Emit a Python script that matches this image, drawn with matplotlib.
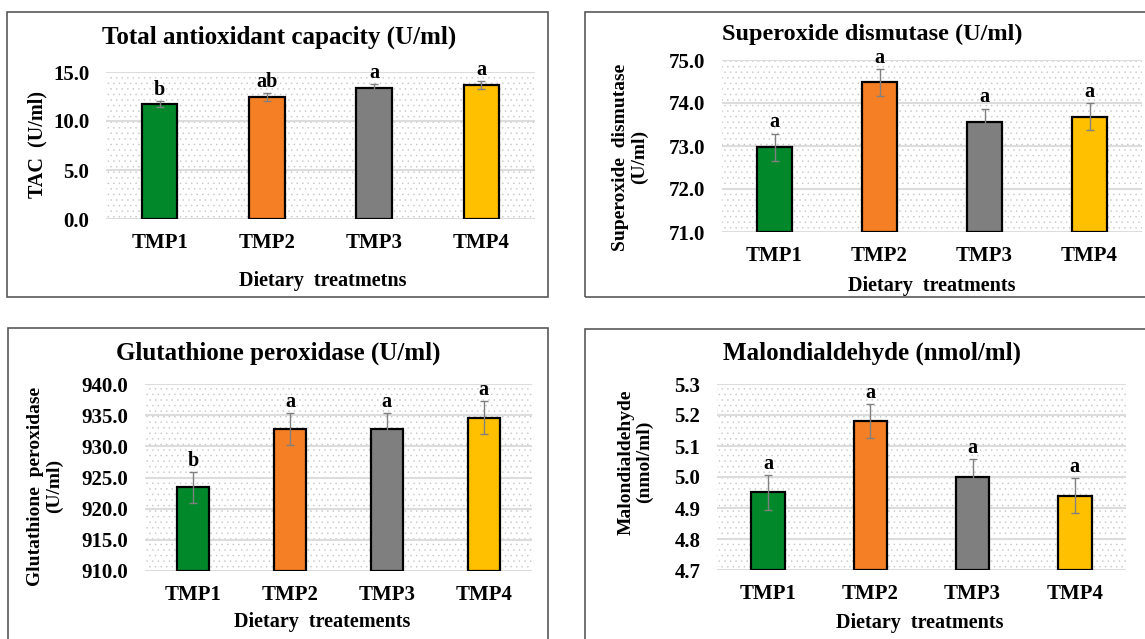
import numpy as np
import matplotlib
matplotlib.use("Agg")
import matplotlib.pyplot as plt
from matplotlib.patches import Rectangle

plt.rcParams['font.family'] = ['Liberation Serif', 'DejaVu Serif']
plt.rcParams['font.weight'] = 'bold'
plt.rcParams['hatch.color'] = '#c4c4c4'
plt.rcParams['hatch.linewidth'] = 0.3

# data
treatments = ['TMP1', 'TMP2', 'TMP3', 'TMP4']
bar_colors = ['#00882b', '#f47f24', '#7f7f7f', '#ffc000']

tac = [11.7, 12.45, 13.35, 13.65]
tac_err = [0.3, 0.4, 0.4, 0.4]
tac_letters = ['b', 'ab', 'a', 'a']

sod = [72.97, 74.48, 73.56, 73.68]
sod_err = [0.32, 0.31, 0.31, 0.31]
sod_letters = ['a', 'a', 'a', 'a']

gpx = [923.4, 932.8, 932.8, 934.6]
gpx_err = [2.5, 2.55, 2.55, 2.6]
gpx_letters = ['b', 'a', 'a', 'a']

mda = [4.95, 5.18, 5.0, 4.94]
mda_err = [0.056, 0.054, 0.057, 0.056]
mda_letters = ['a', 'a', 'a', 'a']

W, H = 1145, 639
fig = plt.figure(figsize=(W / 100, H / 100), dpi=100)

def box(x0, y0, x1, y1):
    # pixel box -> figure fraction
    return [x0 / W, 1 - y1 / H, (x1 - x0) / W, (y1 - y0) / H]

def ftext(x, y, s, **kw):
    fig.text(x / W, 1 - y / H, s, ha='center', va='center', **kw)

def panel(rect, vals, errs, letters, ylim, yticks, fmt):
    ax = fig.add_axes(box(*rect))
    bg = Rectangle((0, 0), 1, 1, transform=ax.transAxes, facecolor='white',
                   edgecolor='#c4c4c4', lw=0, hatch='...', zorder=0)
    ax.add_patch(bg)
    ax.set_facecolor('white')
    x = np.arange(len(treatments))
    ax.bar(x, [v - ylim[0] for v in vals], bottom=ylim[0], width=0.33,
           color=bar_colors, edgecolor='black', linewidth=1.6, zorder=3)
    ax.errorbar(x, vals, yerr=errs, fmt='none', ecolor='#808080', elinewidth=1,
                capsize=3, capthick=1, zorder=4)
    for xi, v, e, l in zip(x, vals, errs, letters):
        ax.annotate(l, (xi, v + e), xytext=(0, 1), textcoords='offset points',
                    ha='center', va='bottom', fontsize=14.5, fontweight='bold')
    ax.set_xlim(-0.5, 3.5)
    ax.set_ylim(*ylim)
    ax.set_yticks(yticks)
    ax.set_yticklabels([fmt.format(t) for t in yticks])
    ax.set_xticks(x)
    ax.set_xticklabels(treatments)
    ax.tick_params(length=0, labelsize=15, pad=10)
    ax.tick_params(axis='y', pad=12)
    ax.grid(axis='y', color='#dcdcdc', lw=1.5, zorder=1)
    ax.set_axisbelow(True)
    for s in ax.spines.values():
        s.set_visible(False)
    return ax

# panel frames
frame_kw = dict(fill=False, edgecolor='#595959', lw=1.2, transform=fig.transFigure)
for x0, y0, x1, y1 in [(7, 12, 548, 297), (585, 12, 1160, 297),
                       (8, 328, 548, 660), (585, 329, 1160, 660)]:
    fig.patches.append(Rectangle((x0 / W, 1 - y1 / H), (x1 - x0) / W, (y1 - y0) / H, **frame_kw))

panel((106, 72, 535, 219), tac, tac_err, tac_letters, (0, 15), [0, 5, 10, 15], '{:.1f}')
panel((722, 60, 1142, 232), sod, sod_err, sod_letters, (71, 75), [71, 72, 73, 74, 75], '{:.1f}')
panel((145, 384, 532, 571), gpx, gpx_err, gpx_letters, (910, 940),
      [910, 915, 920, 925, 930, 935, 940], '{:.1f}')
panel((717, 384, 1126, 570), mda, mda_err, mda_letters, (4.7, 5.3),
      [4.7, 4.8, 4.9, 5.0, 5.1, 5.2, 5.3], '{:.1f}')

# titles
ftext(279, 37, 'Total antioxidant capacity (U/ml)', fontsize=18, fontweight='bold')
ftext(872, 34, 'Superoxide dismutase (U/ml)', fontsize=17.5, fontweight='bold')
ftext(278, 353, 'Glutathione peroxidase (U/ml)', fontsize=18, fontweight='bold')
ftext(872, 353, 'Malondialdehyde (nmol/ml)', fontsize=18, fontweight='bold')

# x labels
ftext(323, 281, 'Dietary  treatmetns', fontsize=14.5, fontweight='bold')
ftext(932, 286, 'Dietary  treatments', fontsize=14.5, fontweight='bold')
ftext(322, 622, 'Dietary  treatements', fontsize=14.5, fontweight='bold')
ftext(920, 623, 'Dietary  treatments', fontsize=14.5, fontweight='bold')

# y labels
ftext(37, 145, 'TAC  (U/ml)', fontsize=14.5, fontweight='bold', rotation=90)
ftext(630, 157, 'Superoxide  dismutase\n(U/ml)', fontsize=14, fontweight='bold',
      rotation=90, linespacing=1.1)
ftext(45, 486, 'Glutathione  peroxidase\n(U/ml)', fontsize=14, fontweight='bold',
      rotation=90, linespacing=1.1)
ftext(635, 462, 'Malondialdehyde\n(nmol/ml)', fontsize=14, fontweight='bold',
      rotation=90, linespacing=1.1)

fig.savefig('out.png', dpi=100, facecolor='white')
